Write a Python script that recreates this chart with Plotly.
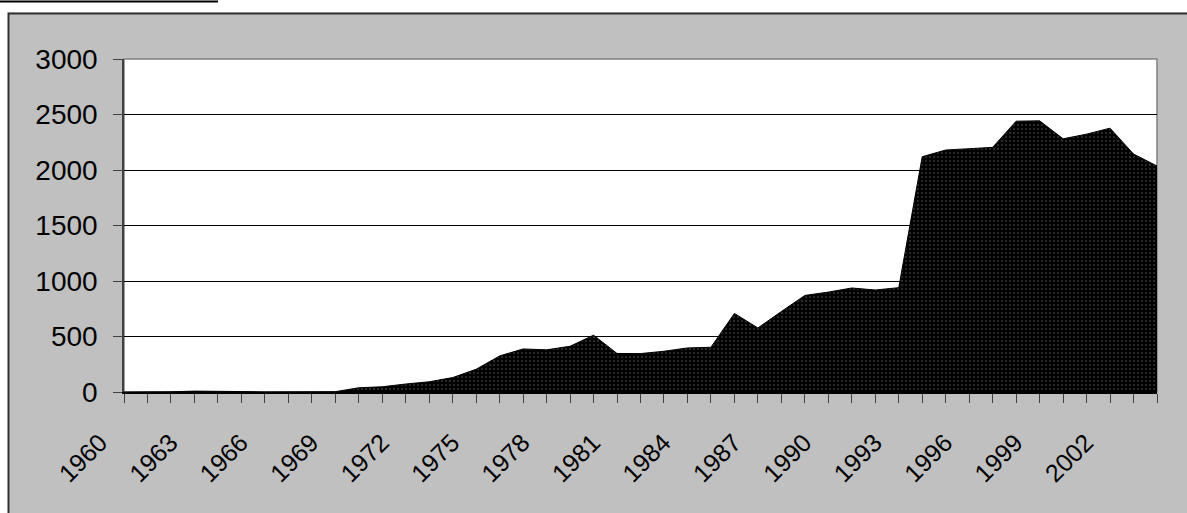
import plotly.graph_objects as go

years = list(range(1960, 2005))
values = [0, 0, 2, 8, 9, 4, 1, 1, 1, 3,
          38, 47, 72, 92, 130, 205, 325, 388, 380, 412,
          512, 347, 346, 367, 397, 403, 708, 577, 725, 870,
          900, 937, 919, 940, 2120, 2180, 2192, 2204, 2440, 2443,
          2281, 2323, 2377, 2144, 2036]
tick_labels = [str(y) if (y - 1960) % 3 == 0 else "" for y in years]
y_ticks = [0, 500, 1000, 1500, 2000, 2500, 3000]

W, H = 1187, 513
L, R, T, B = 124, 30, 59, 121
PW, PH = W - L - R, H - T - B


def px(x):
    return (x - L) / PW


def py(y):
    return (T + PH - y) / PH


fig = go.Figure()
fig.add_trace(go.Scatter(
    x=years, y=values, mode="lines", fill="tozeroy",
    line=dict(color="black", width=1),
    fillcolor="black",
    fillpattern=dict(shape=".", bgcolor="black", fgcolor="#707070", size=4, solidity=0.2),
    hoverinfo="skip", showlegend=False,
))

font = "Liberation Sans, Arial, sans-serif"
fig.update_layout(
    width=W, height=H,
    margin=dict(l=L, r=R, t=T, b=B, pad=0),
    paper_bgcolor="#C0C0C0",
    plot_bgcolor="white",
    showlegend=False,
    xaxis=dict(
        range=[1960, 2004], tickmode="array", tickvals=years, ticktext=tick_labels,
        tickangle=-45, ticks="outside", ticklen=9, tickwidth=1, tickcolor="#404040",
        showgrid=False, zeroline=False, showline=True, linecolor="black", linewidth=2,
        tickfont=dict(family=font, size=25, color="black"),
        ticklabelstandoff=15, ticklabelshift=-24,
    ),
    yaxis=dict(
        range=[0, 3000], tickmode="array", tickvals=y_ticks,
        ticks="outside", ticklen=9, tickwidth=1, tickcolor="#404040",
        showgrid=True, gridcolor="black", gridwidth=1, zeroline=False,
        showline=True, linecolor="#404040", linewidth=1.5,
        tickfont=dict(family=font, size=28, color="black"),
        ticklabelstandoff=10,
    ),
    shapes=[
        dict(type="rect", xref="paper", yref="paper", x0=0, x1=1, y0=0, y1=1,
             line=dict(color="#808080", width=1.5), fillcolor="rgba(0,0,0,0)", layer="below"),
        dict(type="rect", xref="paper", yref="paper", x0=px(-5), x1=px(1200), y0=py(12.5), y1=py(-5),
             line=dict(width=0), fillcolor="white", layer="below"),
        dict(type="rect", xref="paper", yref="paper", x0=px(-5), x1=px(8), y0=py(520), y1=py(-5),
             line=dict(width=0), fillcolor="white", layer="below"),
        dict(type="path", xref="paper", yref="paper",
             path=f"M {px(8.5)} {py(520)} L {px(8.5)} {py(13.5)} L {px(1200)} {py(13.5)}",
             line=dict(color="#303030", width=2), layer="below"),
        dict(type="line", xref="paper", yref="paper", x0=px(0), x1=px(218), y0=py(1.5), y1=py(1.5),
             line=dict(color="black", width=2), layer="below"),
    ],
)

fig.write_html("out.html", config={"displayModeBar": False},
               post_script="document.body.style.margin='0';")
